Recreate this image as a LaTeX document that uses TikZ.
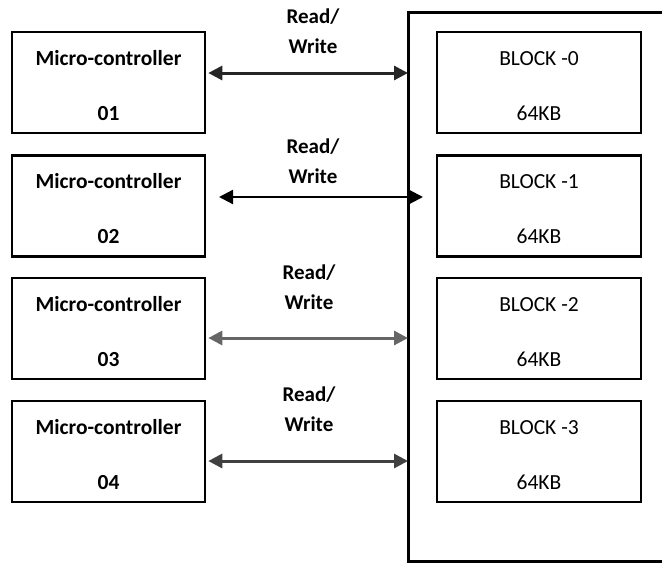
\documentclass[tikz,border=0pt]{standalone}
\usepackage{fontspec}
\setmainfont{Carlito}
\usetikzlibrary{arrows.meta, positioning}

\newcommand{\lift}{\rule{0pt}{21pt}}

\tikzset{
    mcbox/.style={draw, line width=2.6pt, minimum width=193pt, minimum height=101pt, align=center, font=\fontsize{21.5}{25}\selectfont\bfseries},
    blkbox/.style={draw, line width=2.6pt, minimum width=204pt, minimum height=101pt, align=center, font=\fontsize{21.5}{25}\selectfont},
    rwlabel/.style={align=center, font=\fontsize{21}{30}\selectfont\bfseries},
    rw/.style={{Triangle[length=14pt,width=14pt]}-{Triangle[length=14pt,width=14pt]}, line width=3pt}
}

\begin{document}
\begin{tikzpicture}[x=1pt, y=-1pt]
                        \useasboundingbox (0, 0) rectangle (662, 563);

                        \node[mcbox] (mc1) at (108.5, 82.5) {\lift Micro-controller\\[30pt]01};
                        \node[mcbox] (mc2) at (108.5, 206) {\lift Micro-controller\\[30pt]02};
                        \node[mcbox] (mc3) at (108.5, 328.5) {\lift Micro-controller\\[30pt]03};
                        \node[mcbox] (mc4) at (108.5, 451.5) {\lift Micro-controller\\[30pt]04};

                        \node[blkbox] (b0) at (539, 82.5) {\lift BLOCK -0\\[30pt]64KB};
                        \node[blkbox] (b1) at (539, 206) {\lift BLOCK -1\\[30pt]64KB};
                        \node[blkbox] (b2) at (539, 328.5) {\lift BLOCK -2\\[30pt]64KB};
                        \node[blkbox] (b3) at (539, 451.5) {\lift BLOCK -3\\[30pt]64KB};

                        \node[rwlabel] (rw1) at (313, 31) {Read/\\Write};
                        \node[rwlabel] (rw2) at (313, 161) {Read/\\Write};
                        \node[rwlabel] (rw3) at (309, 287) {Read/\\Write};
                        \node[rwlabel] (rw4) at (309, 409) {Read/\\Write};

                        % memory
                        \draw[line width=3pt]
                        (664, 12) -| (408, 561) -- (664, 561);

                        \coordinate (m1) at (408, 73);
                        \coordinate (m2) at (423, 197);
                        \coordinate (m3) at (408, 338);
                        \coordinate (m4) at (408, 461);
                        \coordinate (s2) at (219, 197);

                        \draw[rw, black!85]
                        ([xshift=2pt]mc1.east |- m1) -- (m1);
                        \draw[rw, line width=2.2pt]
                        (s2) -- (m2);
                        \draw[rw, black!60]
                        ([xshift=2pt]mc3.east |- m3) -- (m3);
                        \draw[rw, black!75]
                        ([xshift=2pt]mc4.east |- m4) -- (m4);
                    \end{tikzpicture}
\end{document}
